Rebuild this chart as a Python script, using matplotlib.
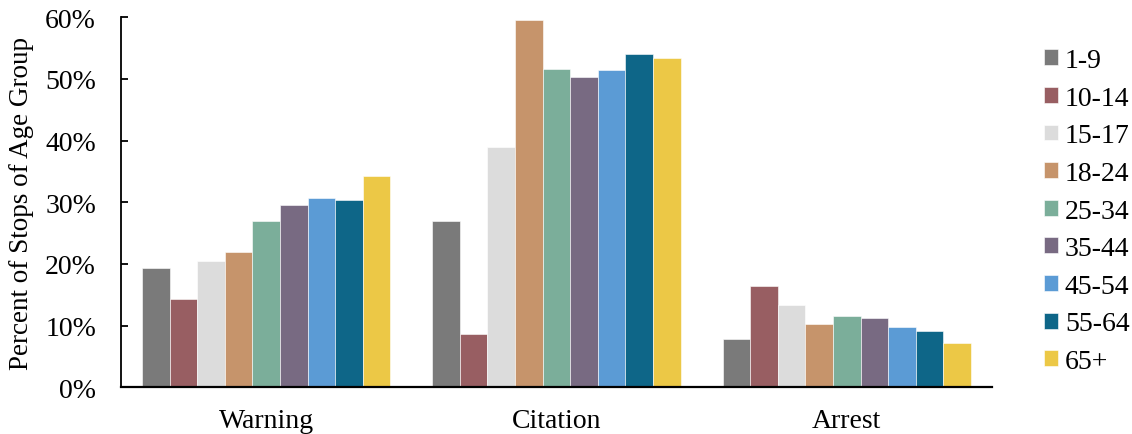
import numpy as np
import matplotlib
matplotlib.use("Agg")
import matplotlib.pyplot as plt
from matplotlib.ticker import PercentFormatter

plt.rcParams["font.family"] = ["Liberation Serif", "DejaVu Serif"]

outcomes = ["Warning", "Citation", "Arrest"]
age_groups = ["1-9", "10-14", "15-17", "18-24", "25-34", "35-44", "45-54", "55-64", "65+"]

# 每个年龄组在三种结果下的比例 (%)
warning = [19.4, 14.3, 20.4, 21.9, 26.9, 29.6, 30.7, 30.3, 34.3]
citation = [26.9, 8.6, 38.9, 59.6, 51.6, 50.4, 51.4, 54.0, 53.4]
arrest = [7.8, 16.4, 13.3, 10.2, 11.5, 11.2, 9.7, 9.2, 7.2]

colors = ["#7a7a7a", "#985e62", "#dcdcdc", "#c6946b", "#7bae9a",
          "#786a82", "#5b9bd5", "#0e6688", "#ecc846"]

values = np.array([warning, citation, arrest])  # shape: outcome x age

fig = plt.figure(figsize=(11.32, 4.35), dpi=100)
ax = fig.add_axes([0.1069, 0.1074, 0.7693, 0.8505])

n = len(age_groups)
width = 0.095
x = np.arange(len(outcomes))
for i, (grp, c) in enumerate(zip(age_groups, colors)):
    offset = (i - (n - 1) / 2) * width
    ax.bar(x + offset, values[:, i], width, color=c, label=grp,
           edgecolor="white", linewidth=0.4)

FS = 20
ax.set_xlim(-0.5, 2.5)
ax.set_ylim(0, 60)
ax.set_yticks(np.arange(0, 61, 10))
ax.yaxis.set_major_formatter(PercentFormatter(decimals=0))
ax.set_xticks(x)
ax.set_xticklabels(outcomes, fontsize=FS)
ax.tick_params(axis="x", length=0, pad=15)
ax.tick_params(axis="y", direction="in", length=5, width=1.3, labelsize=FS, pad=18)

ax.spines["top"].set_visible(False)
ax.spines["right"].set_visible(False)
ax.spines["left"].set_linewidth(1.3)
ax.spines["bottom"].set_linewidth(1.6)

ax.set_ylabel("Percent of Stops of Age Group", fontsize=19.5, labelpad=8)

ax.legend(loc="upper left", bbox_to_anchor=(1044 / 1132, 1 - 49 / 435),
          bbox_transform=fig.transFigure, frameon=False, fontsize=FS,
          handlelength=0.5, handleheight=0.5, handletextpad=0.25,
          labelspacing=0.455, borderpad=0, borderaxespad=0)

fig.savefig("out.png", dpi=100)
